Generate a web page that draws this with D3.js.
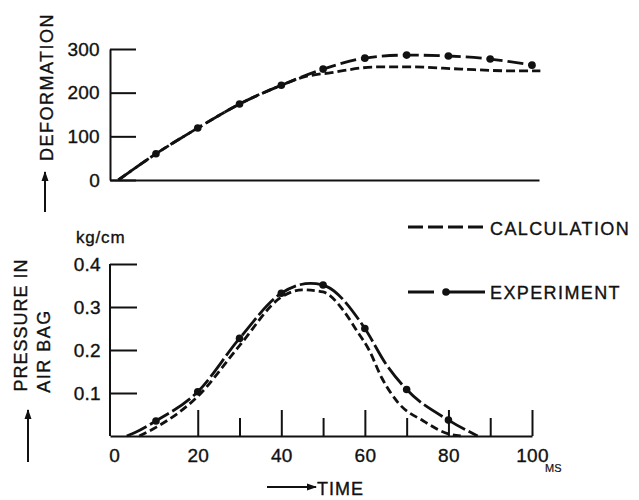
<!DOCTYPE html>
<html>
<head>
<meta charset="utf-8">
<script src="https://cdn.jsdelivr.net/npm/d3@7"></script>
<style>
  html, body { margin: 0; padding: 0; background: #fff; }
  svg { display: block; }
  text { font-family: "Liberation Sans", Arial, Helvetica, sans-serif; fill: #111; stroke: #111; stroke-width: 0.35px; }
</style>
</head>
<body>
<svg id="chart" width="639" height="500"></svg>
<script>
// ---------- DATA ----------
// Top panel: deformation vs time (ms)
const deformExpTime = [1, 10, 20, 30, 40, 50, 60, 70, 80, 90, 100];
const deformExpValue = [0, 60, 119, 174, 217, 254, 279, 286, 284, 277, 263];
const deformCalcTime = [1, 10, 20, 30, 40, 45, 52, 63, 71, 83, 94.5, 102];
const deformCalcValue = [0, 60, 119, 174, 217, 235, 246, 259, 259, 254, 250, 250];

// Bottom panel: pressure in air bag (kg/cm) vs time (ms)
const pressExpTime = [3, 5, 10, 20, 30, 40, 47, 50, 60, 65, 70, 80, 87];
const pressExpValue = [0, 0.008, 0.035, 0.103, 0.227, 0.332, 0.355, 0.351, 0.25, 0.168, 0.108, 0.037, 0];
const pressCalcTime = [6, 10, 20, 30, 40, 45, 50, 55, 58, 61, 64, 68, 74, 80, 83];
const pressCalcValue = [0, 0.02, 0.092, 0.21, 0.323, 0.34, 0.335, 0.29, 0.246, 0.2, 0.136, 0.077, 0.035, 0.005, 0];

// Tick labels
const deformTicks = [0, 100, 200, 300];
const pressTicks = [0.1, 0.2, 0.3, 0.4];
const timeMajorTicks = [20, 40, 60, 80, 100];
const timeMinorTicks = [30, 50, 70, 90];
const timeLabels = [0, 20, 40, 60, 80, 100];
const legendLabels = ["CALCULATION", "EXPERIMENT"];

// ---------- SCALES ----------
const svg = d3.select("#chart");
const x = d3.scaleLinear().domain([-1, 100]).range([110, 532]);
const yTop = d3.scaleLinear().domain([0, 300]).range([180, 49]);
const yBot = d3.scaleLinear().domain([0, 0.4]).range([436, 264]);

const ink = "#111";

function zip(t, v) { return t.map((d, i) => ({ t: d, v: v[i] })); }

function styleAxis(g) {
  g.selectAll("path.domain").attr("stroke", ink).attr("stroke-width", 2);
  g.selectAll(".tick line").attr("stroke", ink).attr("stroke-width", 2);
  g.selectAll(".tick text")
    .style("font-family", '"Liberation Sans", Arial, sans-serif')
    .style("font-size", "19px")
    .style("letter-spacing", "0.3px")
    .attr("fill", ink);
}

// ---------- TOP PANEL ----------
svg.append("g")
  .attr("transform", `translate(${x(-1)},0)`)
  .call(d3.axisLeft(yTop).tickValues(deformTicks).tickSize(-26).tickSizeOuter(0).tickPadding(10).tickFormat(d3.format("d")))
  .call(styleAxis);

const xTopLine = x.copy().domain([-1, 101.6]).range([110, 539]);
svg.append("g")
  .attr("transform", `translate(0,${yTop(0)})`)
  .call(d3.axisBottom(xTopLine).tickValues([]).tickSizeOuter(0))
  .call(styleAxis);

const lineTop = d3.line().x(d => x(d.t)).y(d => yTop(d.v)).curve(d3.curveMonotoneX);

svg.append("path")
  .datum(zip(deformCalcTime, deformCalcValue))
  .attr("d", lineTop)
  .attr("fill", "none").attr("stroke", ink).attr("stroke-width", 2.8)
  .attr("stroke-dasharray", "9,4");

svg.append("path")
  .datum(zip(deformExpTime, deformExpValue))
  .attr("d", lineTop)
  .attr("fill", "none").attr("stroke", ink).attr("stroke-width", 2.8)
  .attr("stroke-dasharray", "16,5");

svg.append("g").selectAll("circle")
  .data(zip(deformExpTime, deformExpValue).filter(d => d.t % 10 === 0))
  .join("circle")
  .attr("cx", d => x(d.t)).attr("cy", d => yTop(d.v)).attr("r", 3.8).attr("fill", ink);

// ---------- BOTTOM PANEL ----------
svg.append("g")
  .attr("transform", `translate(${x(-1)},0)`)
  .call(d3.axisLeft(yBot).tickValues(pressTicks).tickSize(-27).tickSizeOuter(0).tickPadding(9).tickFormat(d3.format(".1f")))
  .call(g => g.select("path.domain").attr("d", `M0,${yBot(0.4)}V${yBot(0)}`))
  .call(styleAxis);

svg.append("g")
  .attr("transform", `translate(0,${yBot(0)})`)
  .call(d3.axisBottom(x).tickValues(timeMajorTicks).tickSize(-26).tickSizeOuter(0).tickFormat(""))
  .call(styleAxis);
svg.append("g")
  .attr("transform", `translate(0,${yBot(0)})`)
  .call(d3.axisBottom(x).tickValues(timeMinorTicks).tickSize(-18).tickSizeOuter(0).tickFormat(""))
  .call(g => g.select("path.domain").remove())
  .call(styleAxis);
svg.append("g")
  .attr("transform", `translate(0,${yBot(0)})`)
  .call(d3.axisBottom(x).tickValues(timeLabels).tickSize(0).tickPadding(13).tickFormat(d3.format("d")))
  .call(g => g.select("path.domain").remove())
  .call(styleAxis);

const lineBot = d3.line().x(d => x(d.t)).y(d => yBot(d.v)).curve(d3.curveMonotoneX);

svg.append("path")
  .datum(zip(pressCalcTime, pressCalcValue))
  .attr("d", lineBot)
  .attr("fill", "none").attr("stroke", ink).attr("stroke-width", 2.8)
  .attr("stroke-dasharray", "8,4");

svg.append("path")
  .datum(zip(pressExpTime, pressExpValue))
  .attr("d", lineBot)
  .attr("fill", "none").attr("stroke", ink).attr("stroke-width", 2.8)
  .attr("stroke-dasharray", "22,4");

svg.append("g").selectAll("circle")
  .data(zip(pressExpTime, pressExpValue).filter(d => d.t % 10 === 0))
  .join("circle")
  .attr("cx", d => x(d.t)).attr("cy", d => yBot(d.v)).attr("r", 3.8).attr("fill", ink);

// ---------- LABELS ----------
const defs = svg.append("defs");
defs.append("marker").attr("id", "arr")
  .attr("viewBox", "0 0 10 10").attr("refX", 9).attr("refY", 5)
  .attr("markerWidth", 5).attr("markerHeight", 5).attr("orient", "auto")
  .append("path").attr("d", "M0,1.5L10,5L0,8.5Z").attr("fill", ink);

function arrow(x1, y1, x2, y2) {
  svg.append("line").attr("x1", x1).attr("y1", y1).attr("x2", x2).attr("y2", y2)
    .attr("stroke", ink).attr("stroke-width", 2).attr("marker-end", "url(#arr)");
}

svg.append("text")
  .attr("transform", "translate(53,87) rotate(-90)")
  .attr("text-anchor", "middle")
  .style("font-size", "18px").style("letter-spacing", "1.5px")
  .text("DEFORMATION");
arrow(45, 212, 45, 172);

svg.append("text")
  .attr("transform", "translate(27,325) rotate(-90)")
  .attr("text-anchor", "middle")
  .style("font-size", "18px").style("letter-spacing", "1px")
  .text("PRESSURE IN");
svg.append("text")
  .attr("transform", "translate(50,351) rotate(-90)")
  .attr("text-anchor", "middle")
  .style("font-size", "18px").style("letter-spacing", "1.5px")
  .text("AIR BAG");
arrow(28, 462, 28, 410);

svg.append("text").attr("x", 76).attr("y", 243)
  .style("font-size", "17px").style("letter-spacing", "0.8px").text("kg/cm");

svg.append("text").attr("x", 545).attr("y", 472)
  .style("font-size", "11px").style("stroke-width", "0.2px").text("MS");

svg.append("text").attr("x", 317).attr("y", 495)
  .style("font-size", "18px").style("letter-spacing", "1px").text("TIME");
arrow(267, 487, 316, 487);

// ---------- LEGEND ----------
const lg = svg.append("g");
lg.append("line").attr("x1", 408).attr("x2", 485).attr("y1", 227).attr("y2", 227)
  .attr("stroke", ink).attr("stroke-width", 2.8).attr("stroke-dasharray", "15,5");
lg.append("text").attr("x", 490).attr("y", 235)
  .style("font-size", "18px").style("letter-spacing", "1.4px").text(legendLabels[0]);

lg.append("line").attr("x1", 408).attr("x2", 485).attr("y1", 292).attr("y2", 292)
  .attr("stroke", ink).attr("stroke-width", 2.8).attr("stroke-dasharray", "26,6,0,6,40");
lg.append("circle").attr("cx", 446).attr("cy", 292).attr("r", 3.8).attr("fill", ink);
lg.append("text").attr("x", 490).attr("y", 299)
  .style("font-size", "18px").style("letter-spacing", "1.4px").text(legendLabels[1]);
</script>
</body>
</html>
